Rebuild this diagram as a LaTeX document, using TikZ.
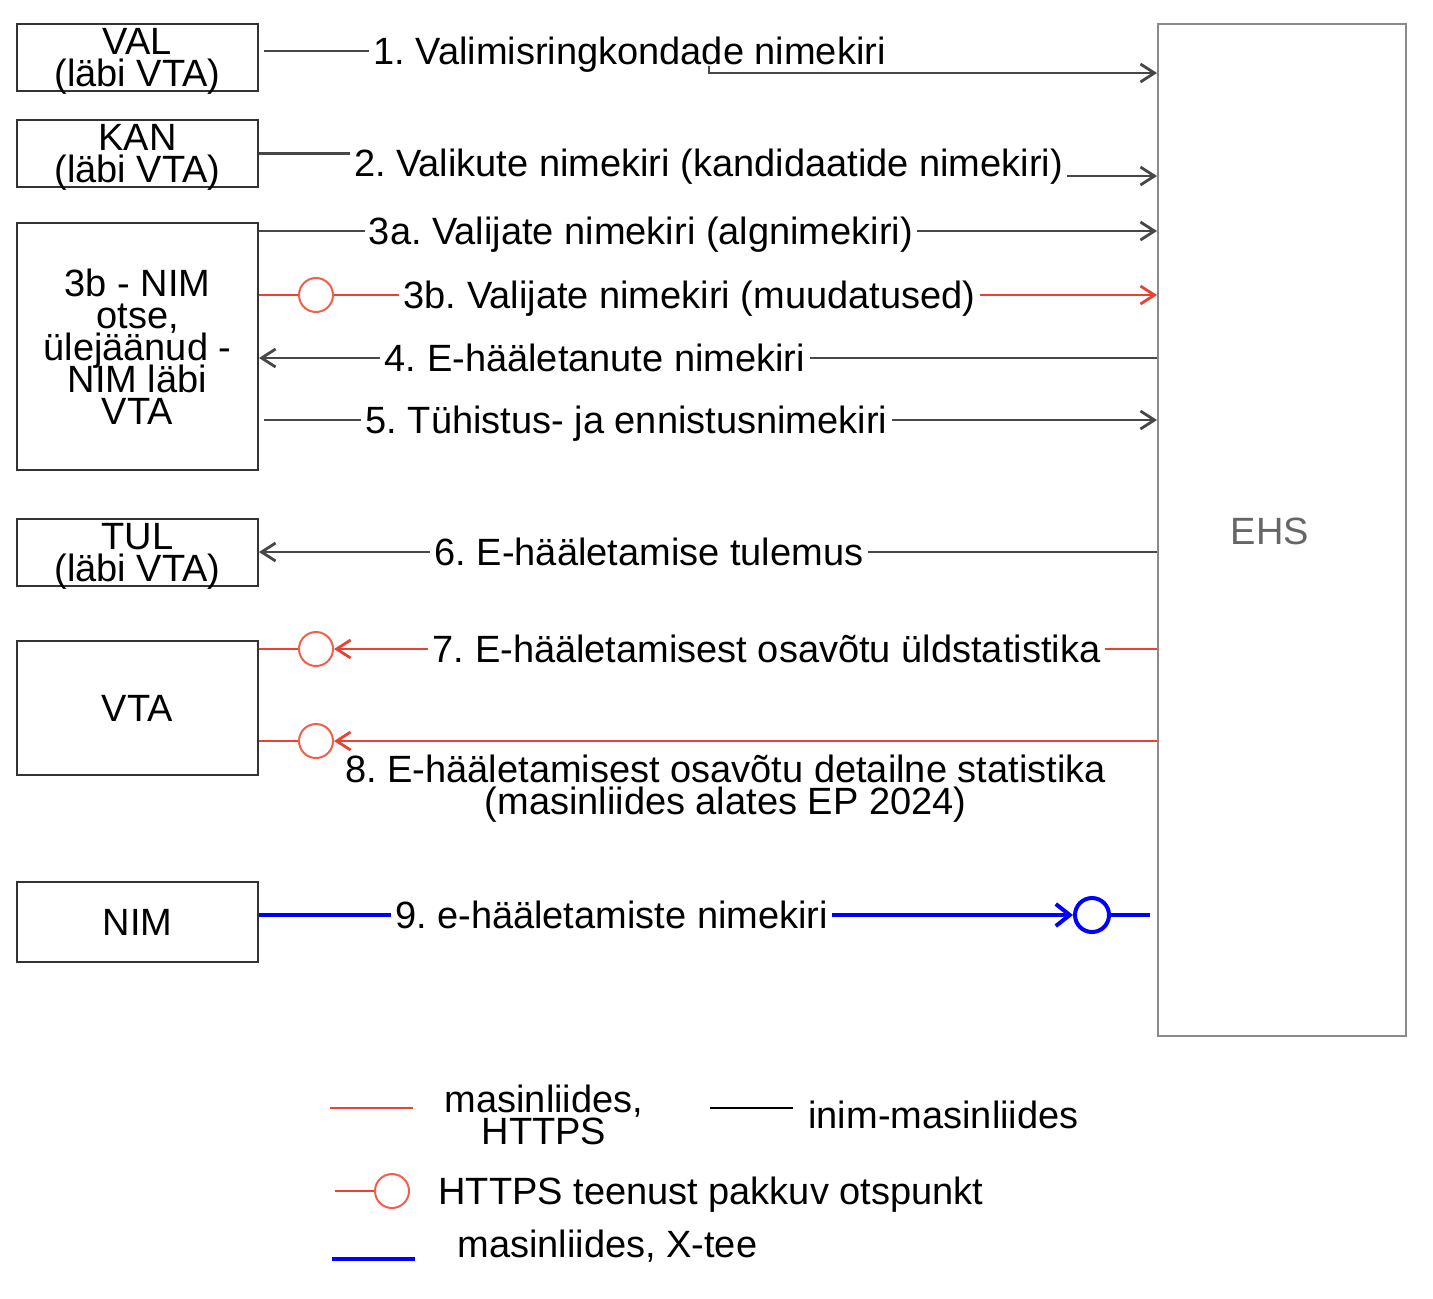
\documentclass[tikz,border=0pt]{standalone}
\usepackage{fontspec}
\setmainfont{Liberation Sans}
\usetikzlibrary{arrows.meta, positioning, calc}
\definecolor{boxline}{HTML}{333333}
\definecolor{ehsline}{HTML}{8A8A8A}
\definecolor{ehstext}{HTML}{666666}
\definecolor{human}{HTML}{474747}
\definecolor{https}{HTML}{EB4130}
\definecolor{httpsend}{HTML}{F0604D}
\definecolor{xroad}{HTML}{0000FF}
\frenchspacing
\newcommand\flowfont{\fontsize{19}{16}\selectfont\lineskiplimit=-20pt\relax}

\begin{document}
\begin{tikzpicture}[
    x=0.5pt, y=-0.5pt,
    >={Straight Barb[length=7pt, width=9pt, line width=1.4pt]},
    every node/.style={font=\flowfont},
    box/.style={
      draw=boxline, line width=1pt, minimum width=120.5pt,
      inner sep=0pt, align=center
    },
    twoline/.style={box, minimum height=33.5pt, text depth=0pt},
    sysbox/.style={
      draw=ehsline, line width=1pt, minimum width=124pt,
      minimum height=506pt, inner sep=0pt
    },
    flowlbl/.style={fill=white, inner sep=2pt, align=center},
    lbl/.style={flowlbl, text height=15pt, text depth=1.5pt},
    legtxt/.style={anchor=west, inner sep=0pt, text height=15pt, text depth=1.5pt},
    hline/.style={draw=human, line width=1.1pt},
    rline/.style={draw=https, line width=1.1pt},
    bline/.style={draw=xroad, line width=2pt},
    endpt/.style={
      circle, draw=httpsend, line width=1pt, fill=white,
      minimum size=17pt, inner sep=0pt
    },
    xendpt/.style={endpt, draw=xroad, line width=2pt}
  ]
  \useasboundingbox (0,0) rectangle (1433,1298);

  % Osapooled
  \node[twoline] (val) at (137.5, 57.5) {VAL\\(läbi VTA)};
  \node[twoline] (kan) at (137.5,153.5) {KAN\\(läbi VTA)};
  \node[box, minimum height=123.5pt] (nim3) at (137.5,346.5)
    {3b - NIM\\otse,\\ülejäänud -\\NIM läbi\\VTA};
  \node[twoline] (tul) at (137.5,552.5) {TUL\\(läbi VTA)};
  \node[box, minimum height=67pt] (vta) at (137.5,708) {VTA};
  \node[box, minimum height=40pt] (nim) at (137.5,922) {NIM};

  % EHS
  \node[sysbox] (ehs) at (1282,530) {};
  \node[text=ehstext] (ehslbl) at (1270,531) {EHS};

  % Andmevoogude nimed
  \node[lbl] (l1)  at (629.5, 51) {1. Valimisringkondade nimekiri};
  \node[lbl] (l2)  at (708.5,163) {2. Valikute nimekiri (kandidaatide nimekiri)};
  \node[lbl] (l3a) at (641,  231) {3a. Valijate nimekiri (algnimekiri)};
  \node[lbl] (l3b) at (689.5,295) {3b. Valijate nimekiri (muudatused)};
  \node[lbl] (l4)  at (595,  358) {4. E-hääletanute nimekiri};
  \node[lbl] (l5)  at (626.5,420) {5. Tühistus- ja ennistusnimekiri};
  \node[lbl] (l6)  at (649,  552) {6. E-hääletamise tulemus};
  \node[lbl] (l7)  at (766.5,649) {7. E-hääletamisest osavõtu üldstatistika};
  \node[flowlbl] (l8) at (725.5,789)
    {8. E-hääletamisest osavõtu detailne statistika\\(masinliides alates EP 2024)};
  \node[lbl] (l9)  at (611.5,915) {9. e-hääletamiste nimekiri};

  % HTTPS otspunktid
  \node[endpt]  (c3b) at (316,295) {};
  \node[endpt]  (c7)  at (316,649) {};
  \node[endpt]  (c8)  at (316,741) {};
  \node[xendpt] (c9)  at (1092,915) {};

  % 1, 2, 3a (inim-masinliides)
  \coordinate (k1) at (709,66);
  \draw[hline, shorten <=2.5pt] (val.east |- l1) -- (l1.west);
  \draw[hline, ->] (k1) |- (ehs.west |- 0,73);
  \draw[hline] (kan.east) -- (kan.east -| l2.west);
  \draw[hline, ->] (l2.east |- 0,176) -- (ehs.west |- 0,176);
  \draw[hline] (nim3.east |- l3a) -- (l3a.west);
  \draw[hline, ->] (l3a.east) -- (ehs.west |- l3a);

  % 3b (masinliides, HTTPS)
  \draw[rline] (nim3.east |- c3b) -- (c3b.west);
  \draw[rline] (c3b.east) -- (l3b.west);
  \draw[rline, ->] (l3b.east) -- (ehs.west |- l3b);

  % 4, 5, 6
  \draw[hline] (ehs.west |- l4) -- (l4.east);
  \draw[hline, ->] (l4.west) -- (nim3.east |- l4);
  \draw[hline, shorten <=2.5pt] (nim3.east |- l5) -- (l5.west);
  \draw[hline, ->] (l5.east) -- (ehs.west |- l5);
  \draw[hline] (ehs.west |- l6) -- (l6.east);
  \draw[hline, ->] (l6.west) -- (tul.east |- l6);

  % 7, 8 (statistika)
  \draw[rline] (vta.east |- c7) -- (c7.west);
  \draw[rline, ->] (l7.west) -- (c7.east);
  \draw[rline] (ehs.west |- l7) -- (l7.east);
  \draw[rline] (vta.east |- c8) -- (c8.west);
  \draw[rline, ->] (ehs.west |- c8) -- (c8.east);

  % 9 (X-tee)
  \draw[bline] (nim.east |- l9) -- (l9.west);
  \draw[bline, ->, >={Straight Barb[length=7pt, width=11pt, line width=2pt]}]
    (l9.east) -- (c9.west);
  \draw[bline, shorten >=3.5pt] (c9.east) -- (ehs.west |- c9);

  % Legend
  \coordinate (lg1a) at (330,1108);
  \coordinate (lg1b) at (413,1108);
  \draw[rline] (lg1a) -- (lg1b);
  \node[align=center] (lgt1) at (544,1115) {masinliides,\\HTTPS};

  \coordinate (lg2a) at (710,1108);
  \coordinate (lg2b) at (793,1108);
  \draw[draw=black, line width=1.1pt] (lg2a) -- (lg2b);
  \node[legtxt] (lgt2) at (808,1115) {inim-masinliides};

  \coordinate (lg3a) at (335,1191);
  \node[endpt] (lgc) at (392,1191) {};
  \draw[rline] (lg3a) -- (lgc.west);
  \node[legtxt] (lgt3) at (438,1191) {HTTPS teenust pakkuv otspunkt};

  \coordinate (lg4a) at (332,1259);
  \coordinate (lg4b) at (415,1259);
  \draw[bline] (lg4a) -- (lg4b);
  \node[legtxt] (lgt4) at (457,1244) {masinliides, X-tee};

\end{tikzpicture}
\end{document}
